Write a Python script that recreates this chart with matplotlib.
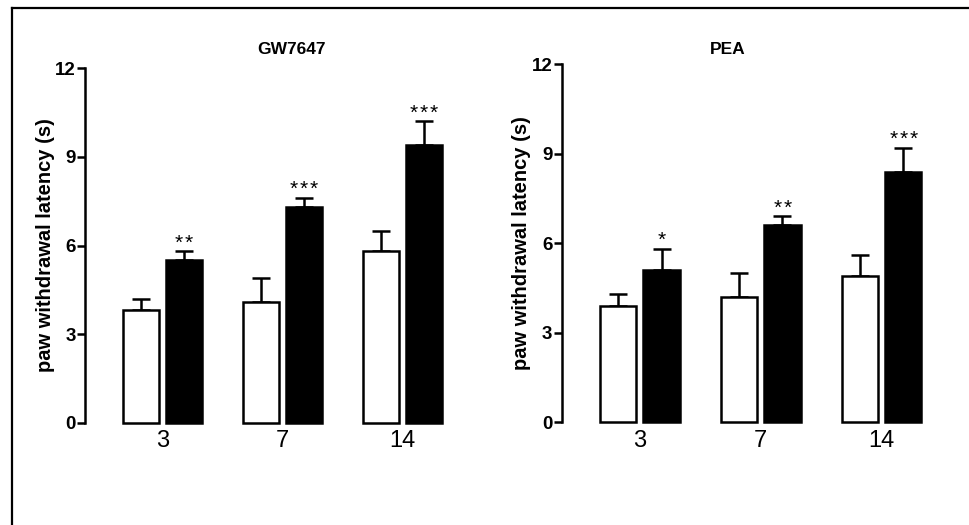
import numpy as np
import matplotlib
matplotlib.use("Agg")
import matplotlib.pyplot as plt
from matplotlib.lines import Line2D

plt.rcParams['font.family'] = ['Liberation Sans', 'DejaVu Sans']

# days after treatment
days = ['3', '7', '14']

# GW7647 panel: vehicle (white) vs treated (black), mean and SEM
gw_vehicle = [3.8, 4.1, 5.8]
gw_vehicle_err = [0.4, 0.8, 0.7]
gw_treated = [5.5, 7.3, 9.4]
gw_treated_err = [0.3, 0.3, 0.8]
gw_stars = ['**', '***', '***']

# PEA panel
pea_vehicle = [3.9, 4.2, 4.9]
pea_vehicle_err = [0.4, 0.8, 0.7]
pea_treated = [5.1, 6.6, 8.4]
pea_treated_err = [0.7, 0.3, 0.8]
pea_stars = ['*', '**', '***']

W, H = 969, 525
fig = plt.figure(figsize=(W / 100, H / 100), dpi=100)

# frame lines (top and left)
fig.add_artist(Line2D([11.5 / W, 11.5 / W], [0, 1 - 7.5 / H], color='black', lw=1.6))
fig.add_artist(Line2D([11.5 / W, 1], [1 - 7.5 / H, 1 - 7.5 / H], color='black', lw=1.6))

lw = 1.8
bw = 0.3
off = 0.18
star_pitch = 7.2  # points between asterisks


def panel(rect, vehicle, vehicle_err, treated, treated_err, stars):
    ax = fig.add_axes(rect)
    x = np.arange(len(days))
    ax.bar(x - off, vehicle, bw, color='white', edgecolor='black', linewidth=lw,
           clip_on=False, zorder=2)
    ax.bar(x + off, treated, bw, color='black', edgecolor='black', linewidth=lw,
           clip_on=False, zorder=2)
    ax.errorbar(x - off, vehicle, yerr=[np.zeros(3), vehicle_err], fmt='none',
                ecolor='black', elinewidth=lw, capsize=6.5, capthick=lw, zorder=1)
    ax.errorbar(x + off, treated, yerr=[np.zeros(3), treated_err], fmt='none',
                ecolor='black', elinewidth=lw, capsize=6.5, capthick=lw, zorder=1)
    # significance asterisks, one glyph at a time so they sit a bit apart
    for xi, m, e, s in zip(x + off, treated, treated_err, stars):
        n = len(s)
        for k in range(n):
            dx = (k - (n - 1) / 2) * star_pitch
            ax.annotate('*', (xi, m + e), xytext=(dx, 2.2), textcoords='offset points',
                        ha='center', va='baseline', fontsize=15)
    ax.set_xlim(-0.646, 2.646)
    ax.set_ylim(0, 12)
    ax.set_yticks([0, 3, 6, 9, 12])
    ax.set_xticks(x)
    ax.set_xticklabels(days, fontsize=17)
    for lab in ax.get_yticklabels():
        lab.set_fontweight('bold')
        lab.set_fontsize(13.5)
    ax.tick_params(axis='y', direction='out', length=5.8, width=lw, pad=1)
    ax.tick_params(axis='x', length=0, pad=5.5)
    for side in ['top', 'right', 'bottom']:
        ax.spines[side].set_visible(False)
    ax.spines['left'].set_linewidth(lw)
    ax.text(-0.101, 0.5, 'paw withdrawal latency (s)', transform=ax.transAxes,
            rotation=90, ha='center', va='center', fontsize=14.5, fontweight='bold')
    return ax


panel([85 / W, 1 - 422.7 / H, 395 / W, 354.4 / H],
      gw_vehicle, gw_vehicle_err, gw_treated, gw_treated_err, gw_stars)
panel([561.7 / W, 1 - 422.3 / H, 398 / W, 358 / H],
      pea_vehicle, pea_vehicle_err, pea_treated, pea_treated_err, pea_stars)

fig.text(291.7 / W, 1 - 49 / H, 'GW7647', ha='center', va='center',
         fontsize=12.5, fontweight='bold')
fig.text(728 / W, 1 - 49 / H, 'PEA', ha='center', va='center',
         fontsize=12.5, fontweight='bold')

fig.savefig('out.png', dpi=100)
